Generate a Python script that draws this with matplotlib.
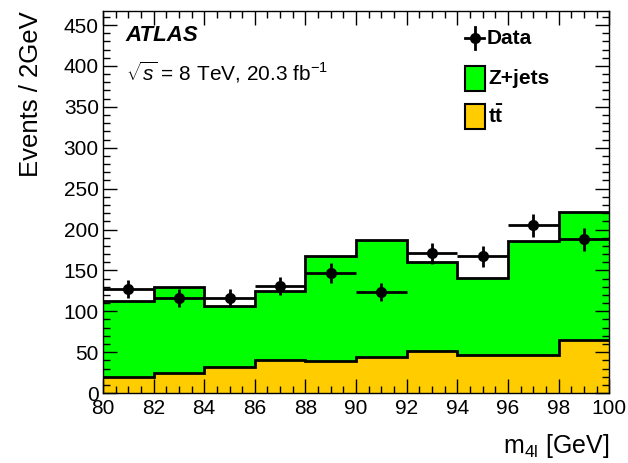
import numpy as np
import matplotlib
matplotlib.use("Agg")
import matplotlib.pyplot as plt
from matplotlib.patches import Rectangle
from matplotlib.lines import Line2D
from matplotlib.ticker import MultipleLocator

plt.rcParams['font.family'] = ['Liberation Sans', 'DejaVu Sans']
plt.rcParams['mathtext.fontset'] = 'custom'
plt.rcParams['mathtext.rm'] = 'Liberation Sans'
plt.rcParams['mathtext.it'] = 'Liberation Sans:italic'
plt.rcParams['mathtext.bf'] = 'Liberation Sans:bold'

# ---- data ----
bin_edges = [80, 82, 84, 86, 88, 90, 92, 94, 96, 98, 100]
ttbar = [20, 25, 32, 41, 39, 44.5, 51.5, 46, 47, 65]
zjets = [92, 105, 74, 84, 128, 142.5, 109, 95, 139, 157]
data = [127, 116, 116, 131, 147, 124, 171, 167, 205, 188]

edges = np.array(bin_edges, dtype=float)
tt = np.array(ttbar)
zj = np.array(zjets)
total = tt + zj
d = np.array(data, dtype=float)
centers = 0.5 * (edges[1:] + edges[:-1])
xerr = 0.5 * np.diff(edges)
yerr = np.sqrt(d)

fig = plt.figure(figsize=(6.28, 4.63), dpi=100)
ax = fig.add_axes([0.164, 0.151, 0.806, 0.825])

green = '#00FF00'
orange = '#FFCC00'

ax.stairs(tt, edges, baseline=0, fill=True, color=orange, lw=0, zorder=1)
ax.stairs(total, edges, baseline=tt, fill=True, color=green, lw=0, zorder=1)
ax.stairs(tt, edges, baseline=None, color='black', lw=2, zorder=2)
ax.stairs(total, edges, baseline=None, color='black', lw=2, zorder=2)

ax.errorbar(centers, d, xerr=xerr, yerr=yerr, fmt='o', color='black',
            ms=7, elinewidth=2, capsize=0, zorder=3)

ax.set_xlim(80, 100)
ax.set_ylim(0, 467)

ax.xaxis.set_major_locator(MultipleLocator(2))
ax.xaxis.set_minor_locator(MultipleLocator(0.5))
ax.yaxis.set_major_locator(MultipleLocator(50))
ax.yaxis.set_minor_locator(MultipleLocator(10))
ax.tick_params(which='both', direction='in', top=True, right=True, width=1)
ax.tick_params(which='major', length=10, labelsize=15, pad=4)
ax.tick_params(axis='y', which='major', pad=3)
ax.tick_params(which='minor', length=5)
for s in ax.spines.values():
    s.set_linewidth(1)

ax.set_ylabel('Events / 2GeV', fontsize=18.5, loc='top', labelpad=15)
ax.set_xlabel(r'm$_{\mathrm{4l}}$ [GeV]', fontsize=18, loc='right', labelpad=10)

ax.text(0.045, 0.937, 'ATLAS', transform=ax.transAxes, fontsize=16,
        fontweight='bold', fontstyle='italic', va='center', ha='left')
ax.text(0.045, 0.84, r'$\sqrt{s}$ = 8 TeV, 20.3 fb$^{-1}$', transform=ax.transAxes,
        fontsize=15, va='center', ha='left')

# legend (manual)
def ax_frac_x(px):
    return (px - 103) / 506.0

def ax_frac_y(py):
    return (393 - py) / 382.0

# Data entry
lx0, lx1 = ax_frac_x(465), ax_frac_x(484)
ly = ax_frac_y(38)
ax.add_line(Line2D([lx0, lx1], [ly, ly], transform=ax.transAxes, color='black', lw=2, zorder=5))
ax.add_line(Line2D([(lx0 + lx1) / 2] * 2, [ly - 11 / 382, ly + 11 / 382],
                   transform=ax.transAxes, color='black', lw=2, zorder=5))
ax.plot([(lx0 + lx1) / 2], [ly], 'o', color='black', ms=7, transform=ax.transAxes, zorder=5)
ax.text(ax_frac_x(487), ly, 'Data', transform=ax.transAxes, fontsize=15,
        fontweight='bold', va='center', ha='left')

for py, col, lab in [(78, green, 'Z+jets'), (116, orange, r't$\mathbf{\bar{t}}$')]:
    yc = ax_frac_y(py)
    ax.add_patch(Rectangle((ax_frac_x(465), yc - 12.5 / 382), 20 / 506, 25 / 382,
                           transform=ax.transAxes, facecolor=col, edgecolor='black',
                           lw=1.5, zorder=5))
    ax.text(ax_frac_x(488), yc, lab, transform=ax.transAxes, fontsize=15,
            fontweight='bold', va='center', ha='left')

fig.savefig('out.png', dpi=100)
